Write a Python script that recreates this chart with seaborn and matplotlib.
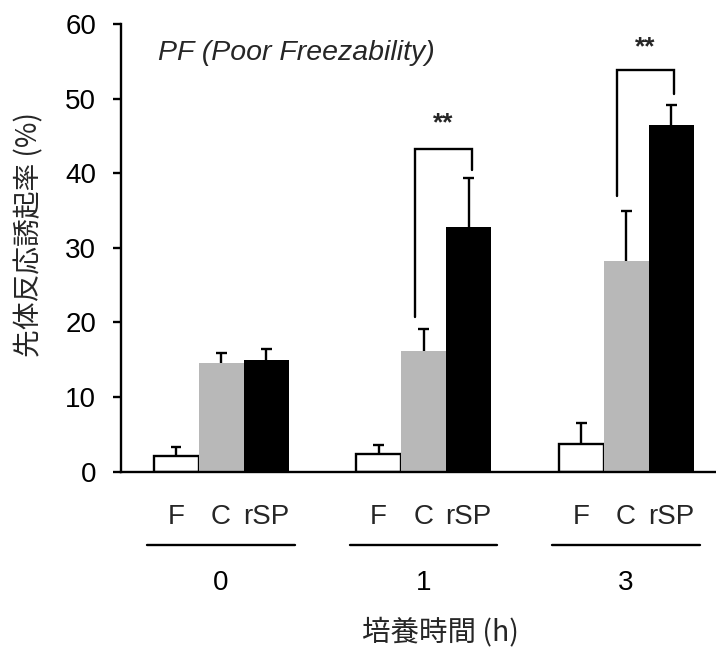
import matplotlib
matplotlib.use("Agg")
import matplotlib.pyplot as plt
import matplotlib.transforms as mtransforms
import pandas as pd
import seaborn as sns

# Incubation time groups and treatments
hours = ["0", "1", "3"]
treatments = ["F", "C", "rSP"]

# Mean acrosome reaction rate (%) and upper error (SE)
f_mean = [2.1, 2.4, 3.7]
f_err = [1.2, 1.2, 2.8]
c_mean = [14.6, 16.2, 28.2]
c_err = [1.3, 2.9, 6.7]
rsp_mean = [15.0, 32.8, 46.4]
rsp_err = [1.4, 6.6, 2.8]

bar_colors = ["#ffffff", "#b8b8b8", "#000000"]

# Significance brackets between C and rSP
sig_hours = ["1", "3"]
sig_top = [43.3, 53.9]
sig_left_end = [20.8, 36.9]
sig_right_end = [40.4, 50.6]
sig_text = ["**", "**"]
sig_text_y = [46.7, 56.9]

means = [f_mean, c_mean, rsp_mean]
errs = [f_err, c_err, rsp_err]

rows = []
for t, m in zip(treatments, means):
    for h, v in zip(hours, m):
        rows.append({"hour": h, "treatment": t, "value": v})
df = pd.DataFrame(rows)

sns.set_style("ticks")
plt.rcParams["font.family"] = ["Liberation Sans", "Noto Sans CJK JP", "DejaVu Sans"]
cjk = ["Noto Sans CJK JP", "DejaVu Sans"]
FS = 20
LW = 1.7

fig = plt.figure(figsize=(7.16, 6.54), dpi=100)
ax = fig.add_axes([0.169, 0.2787, 0.831, 0.6846])

sns.barplot(data=df, x="hour", y="value", hue="treatment",
            order=hours, hue_order=treatments, palette=bar_colors,
            width=0.667, gap=0, errorbar=None, saturation=1,
            legend=False, linewidth=0, ax=ax)

# white bars get a black outline
for bar in ax.containers[0]:
    bar.set_edgecolor("black")
    bar.set_linewidth(LW)

# upper-only error bars: stem from the bar top plus a cap
centers = []
for cont, err in zip(ax.containers, errs):
    xs = [b.get_x() + b.get_width() / 2 for b in cont]
    hs = [b.get_height() for b in cont]
    tops = [h + e for h, e in zip(hs, err)]
    centers.append(xs)
    ax.vlines(xs, hs, tops, colors="black", lw=LW, zorder=3)
    ax.hlines(tops, [x - 0.027 for x in xs], [x + 0.027 for x in xs],
              colors="black", lw=LW, zorder=3)

bw = ax.containers[0][0].get_width()

# significance brackets
for h, top, le, re, txt, ty in zip(sig_hours, sig_top, sig_left_end,
                                   sig_right_end, sig_text, sig_text_y):
    g = hours.index(h)
    lx = centers[1][g] - 0.2 * bw
    rx = centers[2][g] + 0.07 * bw
    ax.plot([lx, lx, rx, rx], [le, top, top, re], color="black", lw=LW,
            solid_joinstyle="miter", zorder=3)
    ax.text((lx + rx) / 2, ty, txt, ha="center", va="center",
            fontsize=19, fontweight="bold")

ax.set_ylim(0, 60)
ax.set_yticks(range(0, 61, 10))
ax.set_xlim(-0.494, 2.444)
sns.despine(ax=ax)
for s in ("left", "bottom"):
    ax.spines[s].set_linewidth(LW)
    ax.spines[s].set_color("black")
    ax.spines[s].set_zorder(4)
ax.tick_params(axis="y", length=6, width=LW, pad=12, labelsize=FS,
               colors="black")
ax.tick_params(axis="x", length=0, pad=71, labelsize=FS, colors="black")
ax.set_xlabel("")
ax.set_ylabel("")

# treatment labels and group underline below each time point
trans = mtransforms.blended_transform_factory(ax.transData, ax.transAxes)
for g in range(len(hours)):
    for i, t in enumerate(treatments):
        ax.text(centers[i][g], -0.101, t, transform=trans, ha="center",
                va="center", fontsize=FS, clip_on=False)
    gx = centers[1][g]
    ax.plot([gx - 0.365, gx + 0.365], [-0.163, -0.163], transform=trans,
            color="black", lw=LW, clip_on=False)

fig.text(0.2207, 0.919, "PF (Poor Freezability)", fontsize=20.5,
         style="italic", ha="left", va="center")
fig.text(0.6145, 0.0336, "培養時間 (h)", family=cjk, fontsize=20.5,
         ha="center", va="center")
fig.text(0.041, 0.6407, "先体反応誘起率 (%)", family=cjk, fontsize=20,
         rotation=90, ha="center", va="center")

fig.savefig("out.png", dpi=100, facecolor="white")
